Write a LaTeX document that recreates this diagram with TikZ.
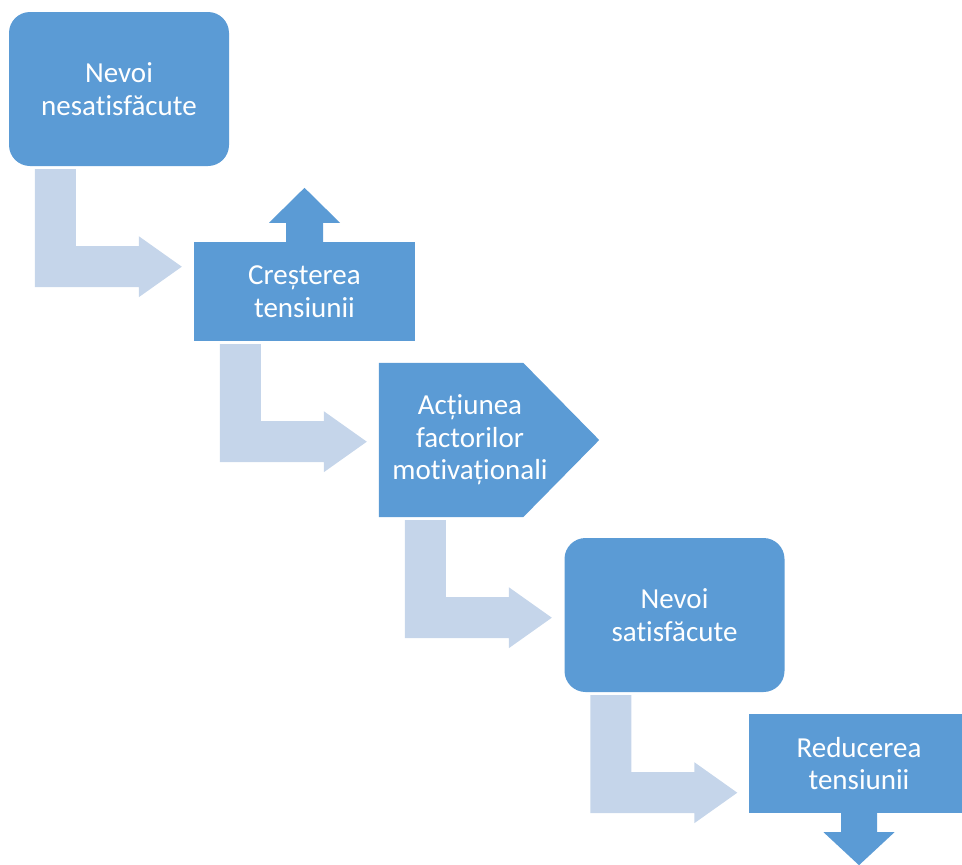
\documentclass[tikz,border=0pt]{standalone}
\usepackage{fontspec}
\setmainfont{Carlito}[Ligatures={NoCommon}]
\usetikzlibrary{calc}
\definecolor{boxblue}{HTML}{5B9BD5}
\definecolor{arrowlight}{HTML}{C5D5EA}
\begin{document}
\begin{tikzpicture}[x=1pt,y=-1pt,
  txt/.style={text=white, align=center, font=\fontsize{29}{32.5}\selectfont, inner sep=0pt},
  roundbox/.style={fill=boxblue, rounded corners=21pt, minimum width=220pt, minimum height=154pt, inner sep=0pt, txt},
  flatbox/.style={fill=boxblue, minimum width=221pt, minimum height=99pt, inner sep=0pt, txt},
  bentarrow/.style={fill=arrowlight}]
\useasboundingbox (0,0) rectangle (962,865);
\clip (0,0) rectangle (962,865);

\node[roundbox] (n1) at (119,89) {Nevoi\\nesatisfăcute};
\node[flatbox] (n2) at (304.5,291.5) {Creșterea\\tensiunii};
\node[minimum width=220pt, minimum height=154pt, inner sep=0pt] (n3) at (489,440) {};
\fill[boxblue] (n3.north west) -- ([xshift=-76pt]n3.north east) -- (n3.east) -- ([xshift=-76pt]n3.south east) -- (n3.south west) -- cycle;
\node[txt] (n3t) at ([xshift=-19pt]n3.center) {Acțiunea\\factorilor\\motivaționali};
\node[roundbox] (n4) at (674.5,615) {Nevoi\\satisfăcute};
\node[flatbox, minimum width=220pt] (n5) at (859,763.5) {Reducerea\\tensiunii};

% up arrow on n2
\fill[boxblue] ($(n2.north)+(-18.5,0)$) -- ++(0,-19) -- ++(-17,0) -- ($(n2.north)+(0,-54)$) -- ($(n2.north)+(35.5,-19)$) -- ++(-17,0) -- ++(0,19) -- cycle;
% down arrow on n5
\fill[boxblue] ($(n5.south)+(-18,0)$) -- ++(0,19) -- ++(-17.5,0) -- ($(n5.south)+(0,52)$) -- ($(n5.south)+(35.5,19)$) -- ++(-17.5,0) -- ++(0,-19) -- cycle;

% bent arrows
\foreach \a in {n1,n2,n3,n4} {
  \fill[bentarrow, shift={(\a.south west)}] (26,3) -- (67,3) -- (67,80) -- (130,80) -- (130,70) -- (173,100.5) -- (130,131) -- (130,121) -- (26,121) -- cycle;
}
\end{tikzpicture}
\end{document}
